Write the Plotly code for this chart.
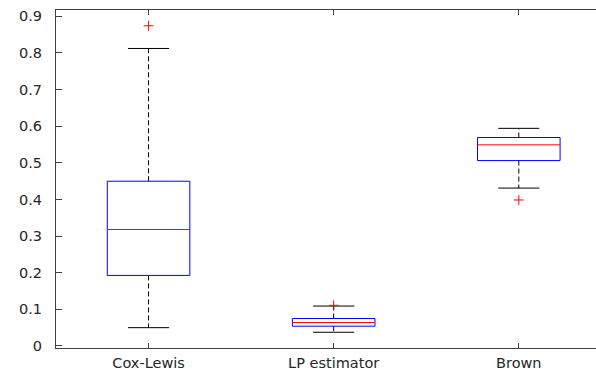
import plotly.graph_objects as go

categories = ["Cox-Lewis", "LP estimator", "Brown"]
positions = [1, 2, 3]
q1 = [0.1926, 0.054, 0.506]
median = [0.318, 0.064, 0.549]
q3 = [0.4497, 0.075, 0.569]
lower_whisker = [0.050, 0.0375, 0.431]
upper_whisker = [0.812, 0.109, 0.594]
outliers = [[0.874], [0.111], [0.3985]]

yticks = [0, 0.1, 0.2, 0.3, 0.4, 0.5, 0.6, 0.7, 0.8, 0.9]
yticklabels = ["0", "0.1", "0.2", "0.3", "0.4", "0.5", "0.6", "0.7", "0.8", "0.9"]

box_half = 0.223
cap_half = 0.111

fig = go.Figure()

for i, p in enumerate(positions):
    # whiskers (dashed)
    fig.add_trace(go.Scatter(
        x=[p, p, None, p, p],
        y=[q3[i], upper_whisker[i], None, q1[i], lower_whisker[i]],
        mode="lines", line=dict(color="black", width=1, dash="5px,3px"),
        hoverinfo="skip", showlegend=False))
    # caps
    fig.add_trace(go.Scatter(
        x=[p - cap_half, p + cap_half, None, p - cap_half, p + cap_half],
        y=[upper_whisker[i], upper_whisker[i], None, lower_whisker[i], lower_whisker[i]],
        mode="lines", line=dict(color="black", width=1),
        hoverinfo="skip", showlegend=False))
    # box
    fig.add_trace(go.Scatter(
        x=[p - box_half, p + box_half, p + box_half, p - box_half, p - box_half],
        y=[q1[i], q1[i], q3[i], q3[i], q1[i]],
        mode="lines", line=dict(color="#0000ff", width=1),
        hoverinfo="skip", showlegend=False))
    # median
    fig.add_trace(go.Scatter(
        x=[p - box_half, p + box_half],
        y=[median[i], median[i]],
        mode="lines", line=dict(color="#ff0000", width=1),
        hoverinfo="skip", showlegend=False))
    # outliers
    fig.add_trace(go.Scatter(
        x=[p] * len(outliers[i]), y=outliers[i],
        mode="markers",
        marker=dict(symbol="cross-thin", size=7, line=dict(color="#ff0000", width=1)),
        hoverinfo="skip", showlegend=False))

fig.update_layout(
    width=596, height=370,
    margin=dict(l=56, r=0, t=10, b=22),
    paper_bgcolor="white", plot_bgcolor="white",
    font=dict(family="DejaVu Sans", size=14.5, color="#262626"),
    xaxis=dict(
        range=[0.5, 3.417], tickvals=positions, ticktext=categories,
        ticks="inside", ticklen=5, tickcolor="#404040", tickwidth=1,
        showline=True, linecolor="#404040", linewidth=1, mirror="ticks",
        showgrid=False, zeroline=False, ticklabelstandoff=2,
    ),
    yaxis=dict(
        range=[-0.0055, 0.917], tickvals=yticks, ticktext=yticklabels,
        ticks="inside", ticklen=6, tickcolor="#404040", tickwidth=1,
        showline=True, linecolor="#404040", linewidth=1, mirror=False,
        showgrid=False, zeroline=False, ticklabelstandoff=10,
    ),
)

fig.write_html("out.html", config={"displayModeBar": False},
               post_script="document.body.style.margin='0';")
